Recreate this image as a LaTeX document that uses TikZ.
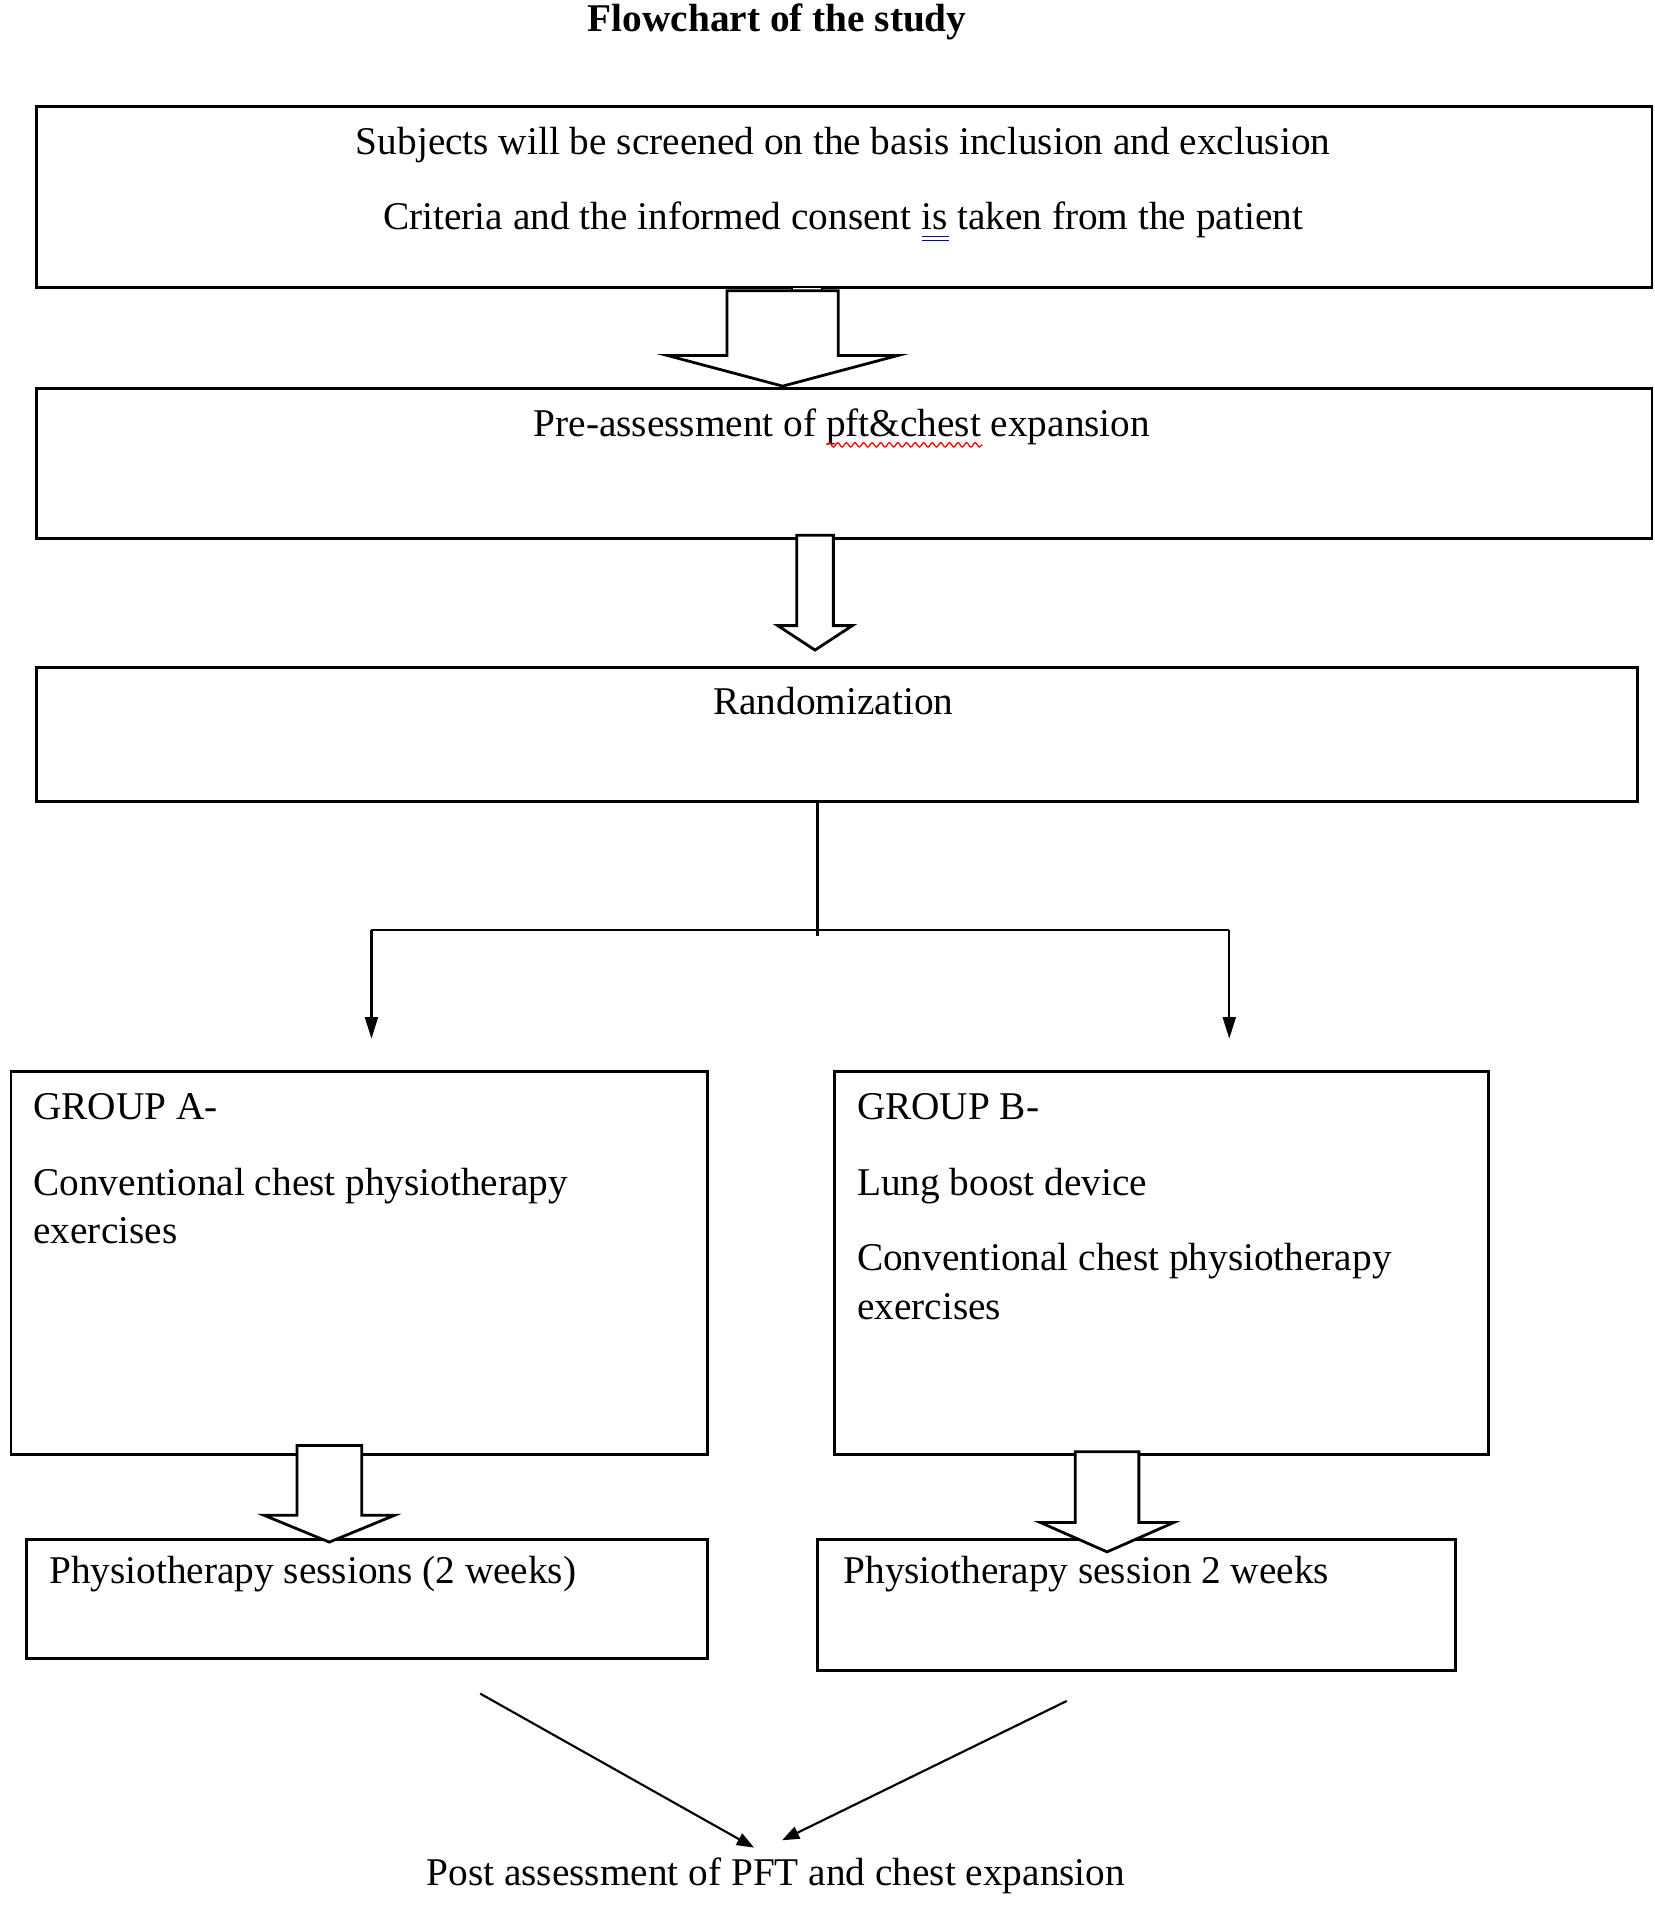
\documentclass[tikz,border=0pt]{standalone}
\usepackage{fontspec}
\setmainfont{Liberation Serif}
\usetikzlibrary{arrows.meta,fit,decorations.pathmorphing}
\newcommand\blockarr[6]{% cx, top, base, tip, shaft half, head half
  \draw[blk] (#1-#5,#2) -- (#1-#5,#3) -- (#1-#6,#3) -- (#1,#4) -- (#1+#6,#3) -- (#1+#5,#3) -- (#1+#5,#2) -- cycle;}
\begin{document}
\begin{tikzpicture}[x=0.02cm,y=-0.02cm,
  box/.style={draw, line width=1.3pt, inner sep=0pt, fit={#1}},
  txt/.style={inner sep=0pt, font=\fontsize{18.3}{22.7}\selectfont},
  ctr/.style={txt, anchor=mid},
  lft/.style={txt, anchor=mid west},
  blk/.style={draw, fill=white, line width=1.3pt, line join=miter},
  conn/.style={draw, line width=1pt},
  arr/.style={conn, -{Triangle[length=10pt,width=6pt]}},
  darr/.style={conn, -{Triangle[length=8pt,width=6pt]}}]
\useasboundingbox (0,0) rectangle (1354,1568);

% title
\node[txt, font=\fontsize{18.3}{22}\selectfont\bfseries, anchor=mid] (title) at (636,22) {Flowchart of the study};

% boxes
\node[box={(30,87) (1352,235)}] (b1) {};
\node[box={(30,318) (1352,441)}] (b2) {};
\node[box={(30,546) (1340,656)}] (b3) {};
\node[box={(9,877) (579,1190)}] (ga) {};
\node[box={(683,877) (1218,1190)}] (gb) {};
\node[box={(22,1260) (579,1357)}] (pa) {};
\node[box={(669,1260) (1191,1367)}] (pb) {};

% texts
\node[ctr] (t1a) at (690,122) {Subjects will be screened on the basis inclusion and exclusion};
\node[ctr] (t1b) at (690,184) {Criteria and the informed consent is taken from the patient};
\node[inner sep=0pt, anchor=base west, font=\fontsize{18.3}{22.7}\selectfont] (t1pre) at (t1b.base west) {\phantom{Criteria and the informed consent }};
\node[inner sep=0pt, anchor=base west, font=\fontsize{18.3}{22.7}\selectfont] (t1is) at (t1pre.base east) {\phantom{is}};
\draw[blue!70!black, line width=0.5pt] ([yshift=-3pt]t1is.base west) -- ([yshift=-3pt]t1is.base east);
\draw[blue!70!black, line width=0.5pt] ([yshift=-5pt]t1is.base west) -- ([yshift=-5pt]t1is.base east);

\node[ctr] (t2) at (689,353) {Pre-assessment of pft\&chest expansion};
\node[inner sep=0pt, anchor=base west, font=\fontsize{18.3}{22.7}\selectfont] (t2pre) at (t2.base west) {\phantom{Pre-assessment of }};
\node[inner sep=0pt, anchor=base west, font=\fontsize{18.3}{22.7}\selectfont] (t2w) at (t2pre.base east) {\phantom{pft\&chest}};
\draw[red, line width=0.6pt, decorate, decoration={snake, segment length=4pt, amplitude=1pt}] ([yshift=-4pt]t2w.base west) -- ([yshift=-4pt]t2w.base east);

\node[ctr] (t3) at (682,581) {Randomization};

\node[lft] (gat1) at (27,912) {GROUP A-};
\node[lft] (gat2) at (27,974) {Conventional chest physiotherapy};
\node[lft] (gat3) at (27,1014) {exercises};

\node[lft] (gbt1) at (701,912) {GROUP B-};
\node[lft] (gbt2) at (701,974) {Lung boost device};
\node[lft] (gbt3) at (701,1036) {Conventional chest physiotherapy};
\node[lft] (gbt4) at (701,1076) {exercises};

\node[lft] (pat) at (40,1292) {Physiotherapy sessions (2 weeks)};
\node[lft] (pbt) at (690,1292) {Physiotherapy session 2 weeks};

\node[ctr] (post) at (635,1539) {Post assessment of PFT and chest expansion};

% block arrows
\draw[line width=1pt, fill=white] (648,235) rectangle (673,241);
\blockarr{640.5}{238}{291}{316}{45.5}{94}
\blockarr{667}{438}{512}{532}{15}{30.5}
\blockarr{269.5}{1183}{1240}{1262}{26.5}{53.5}
\blockarr{906}{1188}{1246}{1270}{26}{54.5}

% split connectors
\coordinate (split) at (669,761);
\coordinate (ta) at (304,850);
\coordinate (tb) at (1006,850);
\draw[conn] (b3.south -| split) -- (669,766);
\draw[conn] (ta |- split) -- (tb |- split);
\draw[arr] (ta |- split) -- (ta);
\draw[arr] (tb |- split) -- (tb);

% converging arrows
\coordinate (da) at (393,1386);
\coordinate (db) at (873,1392);
\coordinate (ea) at (617,1512);
\coordinate (eb) at (640,1506);
\draw[darr] (da) -- (ea);
\draw[darr] (db) -- (eb);
\end{tikzpicture}
\end{document}
